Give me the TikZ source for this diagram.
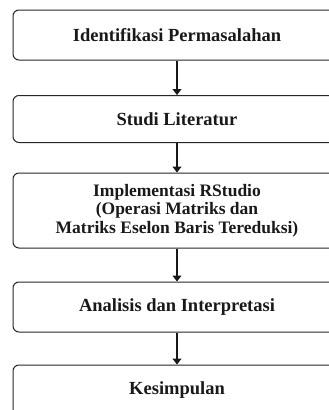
\documentclass[tikz,border=0pt]{standalone}
\usepackage{fontspec}
\setmainfont{Liberation Serif}
\usetikzlibrary{arrows.meta}
\tikzset{
  stepbox/.style={draw=black!85, line width=1pt, rounded corners=6pt,
    minimum width=328pt, minimum height=50pt, align=center,
    font=\fontsize{18.5}{18.5}\selectfont\bfseries, text=black!90},
  flow/.style={-{Triangle[width=9pt,length=6pt]}, line width=1.2pt, black!90}
}
\begin{document}
\begin{tikzpicture}[x=1pt,y=-1pt]
      \useasboundingbox (0,0) rectangle (329,410);
      \clip (0,0) rectangle (329,410);
      \draw
        (177,35) node[stepbox] (ident){Identifikasi Permasalahan}
        (177,119) node[stepbox, minimum height=47pt] (studi){Studi Literatur}
        (177,210.5) node[stepbox, minimum height=75pt,
          font=\fontsize{17.5}{18.5}\selectfont\bfseries] (impl){Implementasi RStudio\\(Operasi Matriks dan\\Matriks Eselon Baris Tereduksi)}
        (177,307) node[stepbox] (anal){Analisis dan Interpretasi}
        (177,390) node[stepbox] (kes){Kesimpulan};
      \begin{scope}[flow]
        \draw (ident) to (studi);
        \draw (studi) to (impl);
        \draw (impl) to (anal);
        \draw (anal) to (kes);
      \end{scope}
    \end{tikzpicture}
\end{document}
